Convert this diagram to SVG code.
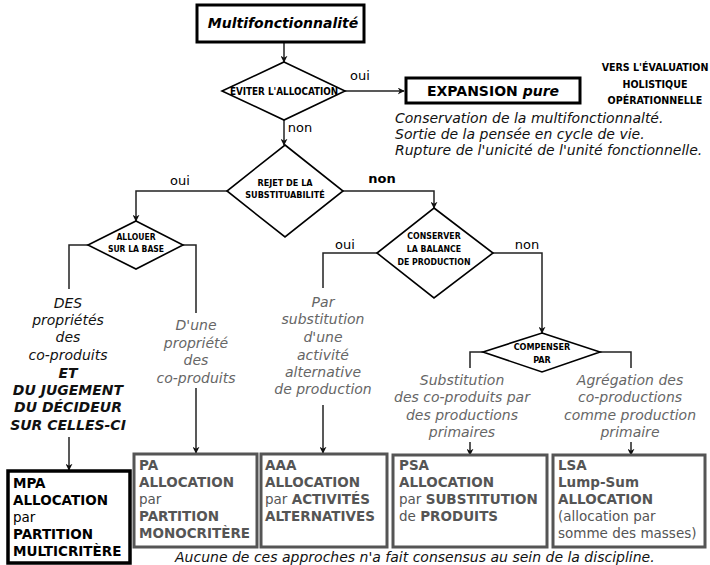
<svg xmlns="http://www.w3.org/2000/svg" width="710" height="565" viewBox="0 0 710 565">
<defs>
<marker id="arr" viewBox="0 0 10 10" refX="9" refY="5" markerWidth="7" markerHeight="7" orient="auto" markerUnits="userSpaceOnUse">
<path d="M0,0 L10,5 L0,10 L3,5 z" fill="#111"/>
</marker>
<style>
.dia{fill:#fff;stroke:#000;stroke-width:1.6}
.bk{fill:#fff;stroke:#000;stroke-width:3}
.gr{fill:#fff;stroke:#555;stroke-width:3}
.c{fill:none;stroke:#222;stroke-width:1.5}
.ca{fill:none;stroke:#222;stroke-width:1.5;marker-end:url(#arr)}
.dt{font-family:"DejaVu Sans Condensed","DejaVu Sans",sans-serif;font-weight:bold;fill:#000;text-anchor:middle}
.lb{font-family:"DejaVu Sans",sans-serif;font-size:13px;fill:#000}
.it{font-family:"DejaVu Sans",sans-serif;font-size:14px;font-style:italic;fill:#111}
.gi{font-family:"DejaVu Sans",sans-serif;font-size:14px;font-style:italic;fill:#666;text-anchor:middle}
.bt{font-family:"DejaVu Sans",sans-serif;font-size:13.5px;fill:#000}
.gt{font-family:"DejaVu Sans",sans-serif;font-size:13.5px;fill:#555}
.b{font-weight:bold}
</style>
</defs>

<g id="connectors">
<path class="ca" d="M284,42 V62"/>
<path class="ca" d="M345,91 H404"/>
<path class="ca" d="M284,120 V145"/>
<path class="ca" d="M227,191 H136 V221"/>
<path class="ca" d="M343,191 H434 V208"/>
<path class="c" d="M88,245 H69 V289"/>
<path class="c" d="M183,245 H196 V313"/>
<path class="ca" d="M69,437 V470"/>
<path class="ca" d="M196,388 V453"/>
<path class="c" d="M377,253 H323 V288"/>
<path class="ca" d="M323,405 V453"/>
<path class="ca" d="M493,253 H542 V333"/>
<path class="c" d="M483,352 H470 V368"/>
<path class="c" d="M600,352 H631 V368"/>
<path class="ca" d="M470,442 V455"/>
<path class="ca" d="M631,442 V455"/>
<text class="lb" x="360" y="80" text-anchor="middle">oui</text>
<text class="lb" x="300" y="132" text-anchor="middle">non</text>
<text class="lb" x="180" y="185" text-anchor="middle">oui</text>
<text class="lb b" x="382" y="183" text-anchor="middle">non</text>
<text class="lb" x="345" y="249" text-anchor="middle">oui</text>
<text class="lb" x="527" y="249" text-anchor="middle">non</text>
</g>

<g id="n-multi">
<rect class="bk" x="197" y="5" width="167" height="37"/>
<text x="283" y="28" text-anchor="middle" font-family="DejaVu Sans, sans-serif" font-size="14" font-weight="bold" font-style="italic">Multifonctionnalité</text>
</g>

<g id="n-eviter">
<polygon class="dia" points="284,62 345,91 284,120 222,91"/>
<text class="dt" x="284" y="95" font-size="9.8">ÉVITER L'ALLOCATION</text>
</g>

<g id="n-expansion">
<rect class="bk" x="406" y="78" width="174" height="25"/>
<text x="493" y="96" text-anchor="middle" font-family="DejaVu Sans, sans-serif" font-size="14" font-weight="bold">EXPANSION <tspan font-style="italic">pure</tspan></text>
</g>

<g id="n-vers">
<text class="dt" font-size="10.6" x="655" y="71">VERS L'ÉVALUATION</text>
<text class="dt" font-size="10.6" x="655" y="88">HOLISTIQUE</text>
<text class="dt" font-size="10.6" x="655" y="104">OPÉRATIONNELLE</text>
</g>

<g id="n-conservation">
<text class="it" x="395" y="123">Conservation de la multifonctionnalté.</text>
<text class="it" x="395" y="139">Sortie de la pensée en cycle de vie.</text>
<text class="it" x="395" y="155">Rupture de l'unicité de l'unité fonctionnelle.</text>
</g>

<g id="n-rejet">
<polygon class="dia" points="285,145 343,191 285,237 227,191"/>
<text class="dt" x="285" y="186" font-size="9">REJET DE LA</text>
<text class="dt" x="285" y="198" font-size="9">SUBSTITUABILITÉ</text>
</g>

<g id="n-allouer">
<polygon class="dia" points="136,221 183,245 136,269 88,245"/>
<text class="dt" x="136" y="240" font-size="8.5">ALLOUER</text>
<text class="dt" x="136" y="252" font-size="8.5">SUR LA BASE</text>
</g>

<g id="n-des">
<text class="it" text-anchor="middle" x="68" y="308">DES</text>
<text class="it" text-anchor="middle" x="68" y="325">propriétés</text>
<text class="it" text-anchor="middle" x="68" y="342">des</text>
<text class="it" text-anchor="middle" x="68" y="360">co-produits</text>
<text class="it b" text-anchor="middle" x="68" y="378">ET</text>
<text class="it b" text-anchor="middle" x="68" y="395">DU JUGEMENT</text>
<text class="it b" text-anchor="middle" x="68" y="412">DU DÉCIDEUR</text>
<text class="it b" text-anchor="middle" x="68" y="430">SUR CELLES-CI</text>
</g>

<g id="n-dune">
<text class="gi" x="196" y="330">D'une</text>
<text class="gi" x="196" y="348">propriété</text>
<text class="gi" x="196" y="365">des</text>
<text class="gi" x="196" y="383">co-produits</text>
</g>

<g id="n-conserver">
<polygon class="dia" points="434,208 493,253 434,298 377,253"/>
<text class="dt" x="434" y="239" font-size="8.7">CONSERVER</text>
<text class="dt" x="434" y="252" font-size="8.7">LA BALANCE</text>
<text class="dt" x="434" y="265" font-size="8.7">DE PRODUCTION</text>
</g>

<g id="n-parsubst">
<text class="gi" x="323" y="307">Par</text>
<text class="gi" x="323" y="324">substitution</text>
<text class="gi" x="323" y="342">d'une</text>
<text class="gi" x="323" y="360">activité</text>
<text class="gi" x="323" y="377">alternative</text>
<text class="gi" x="323" y="394">de production</text>
</g>

<g id="n-compenser">
<polygon class="dia" points="542,333 600,352 542,372 483,352"/>
<text class="dt" x="542" y="350" font-size="9">COMPENSER</text>
<text class="dt" x="542" y="363" font-size="9">PAR</text>
</g>

<g id="n-substitution">
<text class="gi" x="462" y="385">Substitution</text>
<text class="gi" x="462" y="402">des co-produits par</text>
<text class="gi" x="462" y="420">des productions</text>
<text class="gi" x="462" y="437">primaires</text>
</g>

<g id="n-agregation">
<text class="gi" x="630" y="385">Agrégation des</text>
<text class="gi" x="630" y="402">co-productions</text>
<text class="gi" x="630" y="420">comme production</text>
<text class="gi" x="630" y="437">primaire</text>
</g>

<g id="n-mpa">
<rect x="8" y="471" width="122" height="92" fill="#fff" stroke="#000" stroke-width="3.5"/>
<text class="bt b" x="13" y="488">MPA</text>
<text class="bt b" x="13" y="505">ALLOCATION</text>
<text class="bt" x="13" y="522">par</text>
<text class="bt b" x="13" y="539">PARTITION</text>
<text class="bt b" x="13" y="556">MULTICRITÈRE</text>
</g>

<g id="n-pa">
<rect class="gr" x="134" y="454" width="123" height="93"/>
<text class="gt b" x="139" y="470">PA</text>
<text class="gt b" x="139" y="487">ALLOCATION</text>
<text class="gt" x="139" y="504">par</text>
<text class="gt b" x="139" y="521">PARTITION</text>
<text class="gt b" x="139" y="538">MONOCRITÈRE</text>
</g>

<g id="n-aaa">
<rect class="gr" x="261" y="454" width="126" height="93"/>
<text class="gt b" x="265" y="470">AAA</text>
<text class="gt b" x="265" y="487">ALLOCATION</text>
<text class="gt" x="265" y="504">par <tspan font-weight="bold">ACTIVITÉS</tspan></text>
<text class="gt b" x="265" y="521">ALTERNATIVES</text>
</g>

<g id="n-psa">
<rect class="gr" x="393" y="455" width="154" height="92"/>
<text class="gt b" x="399" y="470">PSA</text>
<text class="gt b" x="399" y="487">ALLOCATION</text>
<text class="gt" x="399" y="504">par <tspan font-weight="bold">SUBSTITUTION</tspan></text>
<text class="gt" x="399" y="521">de <tspan font-weight="bold">PRODUITS</tspan></text>
</g>

<g id="n-lsa">
<rect class="gr" x="553" y="455" width="152" height="92"/>
<text class="gt b" x="558" y="470">LSA</text>
<text class="gt b" x="558" y="487">Lump-Sum</text>
<text class="gt b" x="558" y="504">ALLOCATION</text>
<text class="gt" x="558" y="521">(allocation par</text>
<text class="gt" x="558" y="538">somme des masses)</text>
</g>

<g id="n-aucune">
<text class="it" x="175" y="562">Aucune de ces approches n'a fait consensus au sein de la discipline.</text>
</g>
</svg>
